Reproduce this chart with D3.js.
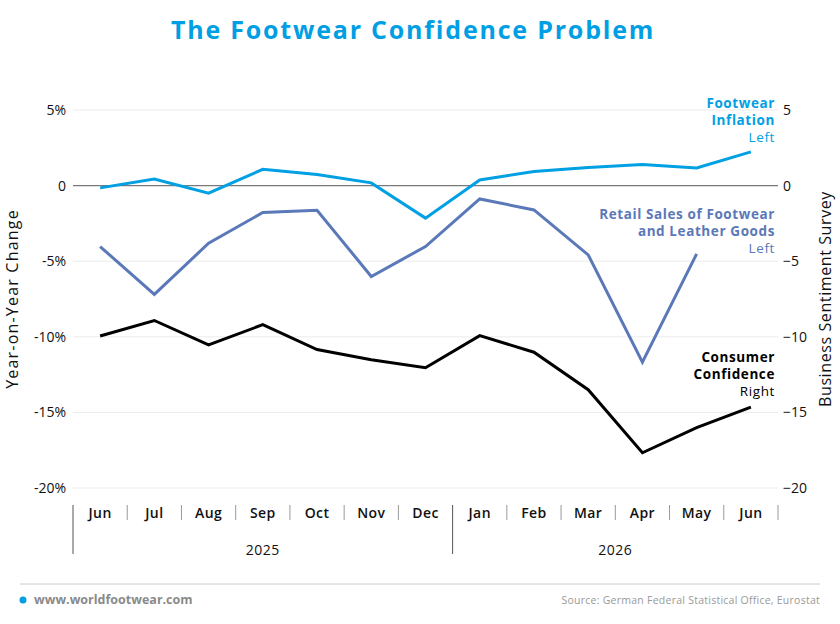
<!DOCTYPE html>
<html>
<head>
<meta charset="utf-8">
<script src="https://cdn.jsdelivr.net/npm/d3@7"></script>
<style>
	body { margin: 0; background: #fff; font-family: "Open Sans", sans-serif; }
	svg text { font-family: "Open Sans", sans-serif; }
</style>
</head>
<body>
<div id="chart"></div>
<script>
// data
var months = ["Jun","Jul","Aug","Sep","Oct","Nov","Dec","Jan","Feb","Mar","Apr","May","Jun"];
var years = [{label: "2025", from: 0, to: 7}, {label: "2026", from: 7, to: 13}];
var footwearInflation = [-0.15, 0.44, -0.5, 1.08, 0.73, 0.18, -2.15, 0.37, 0.93, 1.2, 1.39, 1.17, 2.23];
var retailSales = [-4.03, -7.2, -3.81, -1.78, -1.63, -6.01, -4.03, -0.88, -1.61, -4.58, -11.68, -4.52, null];
var consumerConfidence = [-9.95, -8.92, -10.53, -9.2, -10.84, -11.52, -12.05, -9.92, -11.02, -13.5, -17.67, -16.0, -14.65];
var leftTicks = [5, 0, -5, -10, -15, -20];
var rightTicks = [5, 0, -5, -10, -15, -20];

var width = 840, height = 624;
var margin = {top: 110, right: 62, bottom: 136, left: 73};

var svg = d3.select("#chart").append("svg").attr("width", width).attr("height", height);

var x = d3.scaleBand().domain(d3.range(months.length)).range([margin.left, width - margin.right]);
var yLeft = d3.scaleLinear().domain([-20, 5]).range([height - margin.bottom, margin.top]);
var yRight = d3.scaleLinear().domain([-20, 5]).range([height - margin.bottom, margin.top]);

// title
svg.append("text")
	.attr("x", width/2 - 7).attr("y", 39)
	.attr("text-anchor", "middle")
	.style("font-size", "25px").style("font-weight", "bold")
	.style("letter-spacing", "1.8px")
	.style("fill", "#009fe3")
	.text("The Footwear Confidence Problem");

// gridlines
svg.append("g").selectAll("line")
	.data(leftTicks).enter()
	.append("line")
	.attr("x1", margin.left).attr("x2", width - margin.right)
	.attr("y1", function(d){ return yLeft(d); })
	.attr("y2", function(d){ return yLeft(d); })
	.style("stroke", function(d){ return d == 0 ? "#7a7a7a" : "#ebebeb"; })
	.style("stroke-width", function(d){ return d == 0 ? 1.2 : 1; });

// left axis
var leftAxis = d3.axisLeft(yLeft).tickValues(leftTicks).tickSize(0).tickPadding(7)
	.tickFormat(function(d){ return d == 0 ? "0" : d + "%"; });
var gl = svg.append("g").attr("transform", "translate(" + margin.left + ",0)").call(leftAxis);
gl.select(".domain").remove();
gl.selectAll("text").style("font-size", "14px").style("fill", "#111");

// right axis
var rightAxis = d3.axisRight(yRight).tickValues(rightTicks).tickSize(0).tickPadding(5);
var gr = svg.append("g").attr("transform", "translate(" + (width - margin.right) + ",0)").call(rightAxis);
gr.select(".domain").remove();
gr.selectAll("text").style("font-size", "14px").style("fill", "#111");

// axis titles
svg.append("text")
	.attr("transform", "translate(18," + ((margin.top + height - margin.bottom)/2) + ") rotate(-90)")
	.attr("text-anchor", "middle")
	.style("font-size", "16px").style("letter-spacing", "1.2px").style("fill", "#111")
	.text("Year-on-Year Change");
svg.append("text")
	.attr("transform", "translate(831," + ((margin.top + height - margin.bottom)/2) + ") rotate(-90)")
	.attr("text-anchor", "middle")
	.style("font-size", "16px").style("letter-spacing", "0.6px").style("fill", "#111")
	.text("Business Sentiment Survey");

// lines
var cx = function(d, i){ return x(i) + x.bandwidth()/2; };
var series = [
	{values: footwearInflation, scale: yLeft, color: "#00a0e3"},
	{values: retailSales, scale: yLeft, color: "#5b78b8"},
	{values: consumerConfidence, scale: yRight, color: "#000"}
];
series.forEach(function(s){
	var line = d3.line()
		.defined(function(d){ return d != null; })
		.x(cx)
		.y(function(d){ return s.scale(d); });
	svg.append("path")
		.datum(s.values)
		.attr("d", line)
		.style("fill", "none")
		.style("stroke", s.color)
		.style("stroke-width", 3)
		.style("stroke-linejoin", "miter");
});

// series labels
var labels = [
	{lines: ["Footwear", "Inflation"], side: "Left", y: 108, color: "#00a0e3"},
	{lines: ["Retail Sales of Footwear", "and Leather Goods"], side: "Left", y: 219, color: "#5b78b8"},
	{lines: ["Consumer", "Confidence"], side: "Right", y: 362, color: "#000"}
];
labels.forEach(function(l){
	var t = svg.append("text")
		.attr("text-anchor", "end")
		.style("font-size", "13.5px")
		.style("letter-spacing", "0.6px")
		.style("fill", l.color);
	l.lines.forEach(function(str, i){
		t.append("tspan").attr("x", width - margin.right - 3).attr("y", l.y + i*17)
			.style("font-weight", "bold").text(str);
	});
	t.append("tspan").attr("x", width - margin.right - 3).attr("y", l.y + l.lines.length*17)
		.style("font-weight", "normal").text(l.side);
});

// x axis: months
var axisTop = height - margin.bottom + 17;
svg.append("g").selectAll("text")
	.data(months).enter()
	.append("text")
	.attr("x", cx)
	.attr("y", axisTop + 13)
	.attr("text-anchor", "middle")
	.style("font-size", "14px").style("font-weight", "600").style("letter-spacing", "0.4px").style("fill", "#111")
	.text(function(d){ return d; });

// month separators
var boundaries = d3.range(months.length + 1);
var yearEdges = [0, 7];
svg.append("g").selectAll("line")
	.data(boundaries).enter()
	.append("line")
	.attr("x1", function(i){ return i < months.length ? x(i) : x(i-1) + x.bandwidth(); })
	.attr("x2", function(i){ return i < months.length ? x(i) : x(i-1) + x.bandwidth(); })
	.attr("y1", axisTop)
	.attr("y2", function(i){ return yearEdges.indexOf(i) >= 0 ? axisTop + 49 : axisTop + 15; })
	.style("stroke", function(i){ return yearEdges.indexOf(i) >= 0 ? "#555" : "#999"; })
	.style("stroke-width", 1);

// years
svg.append("g").selectAll("text")
	.data(years).enter()
	.append("text")
	.attr("x", function(d){ return (x(d.from) + x(d.to - 1) + x.bandwidth())/2; })
	.attr("y", axisTop + 50)
	.attr("text-anchor", "middle")
	.style("font-size", "14px").style("letter-spacing", "0.5px").style("fill", "#111")
	.text(function(d){ return d.label; });

// footer
svg.append("line")
	.attr("x1", 20).attr("x2", 820).attr("y1", 584).attr("y2", 584)
	.style("stroke", "#ccc").style("stroke-width", 1);
svg.append("circle")
	.attr("cx", 23).attr("cy", 600).attr("r", 3.5)
	.style("fill", "#009fe3");
svg.append("text")
	.attr("x", 34).attr("y", 604)
	.style("font-size", "12.5px").style("font-weight", "bold").style("fill", "#8a8a8a")
	.text("www.worldfootwear.com");
svg.append("text")
	.attr("x", 820).attr("y", 604)
	.attr("text-anchor", "end")
	.style("font-size", "10.5px").style("letter-spacing", "0.25px").style("fill", "#999")
	.text("Source: German Federal Statistical Office, Eurostat");
</script>
</body>
</html>
